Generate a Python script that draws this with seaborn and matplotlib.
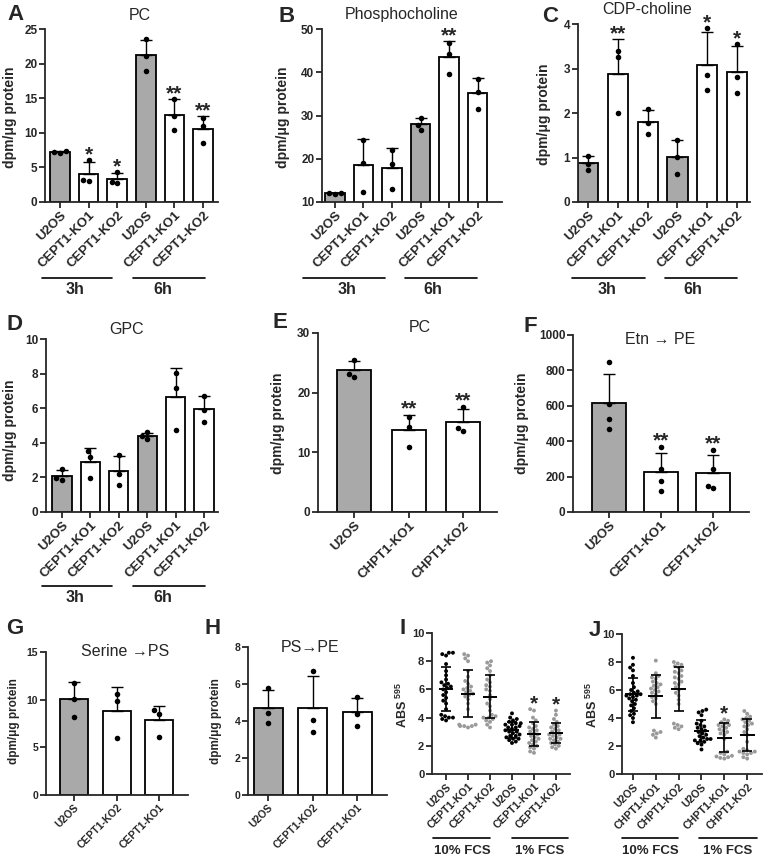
import numpy as np
import pandas as pd
import seaborn as sns
import matplotlib.pyplot as plt

sns.set_style("ticks")
plt.rcParams['font.family'] = ['Liberation Sans', 'DejaVu Sans']
plt.rcParams['mathtext.fontset'] = 'custom'
plt.rcParams['mathtext.rm'] = 'Liberation Sans'
plt.rcParams['mathtext.bf'] = 'Liberation Sans:bold'

# ---- data ----
time_ticks = ["U2OS", "CEPT1-KO1", "CEPT1-KO2", "U2OS", "CEPT1-KO1", "CEPT1-KO2"]
time_fill = ["#a9a9a9", "white", "white", "#a9a9a9", "white", "white"]

pc_3h6h = [[7.1, 7.2, 7.3], [6.0, 3.2, 3.1], [4.3, 2.7, 2.9],
           [23.5, 21.1, 19.0], [14.9, 12.4, 10.4], [12.1, 11.0, 8.5]]
pc_stars = ["", "*", "*", "", "**", "**"]

phosphocholine = [[11.9, 12.0, 12.1], [24.3, 19.0, 12.2], [22.1, 18.7, 12.9],
                  [29.5, 27.7, 26.6], [46.7, 44.2, 39.5], [38.5, 35.5, 31.5]]
phos_stars = ["", "", "", "", "**", ""]

cdp_choline = [[1.03, 0.86, 0.73], [3.40, 3.25, 2.0], [2.08, 1.78, 1.52],
               [1.40, 1.01, 0.64], [3.9, 2.85, 2.51], [3.55, 2.8, 2.44]]
cdp_stars = ["", "**", "", "", "*", "*"]

gpc = [[2.5, 1.85, 1.95], [3.5, 3.2, 1.97], [3.3, 2.2, 1.58],
       [4.6, 4.22, 4.37], [8.03, 7.17, 4.76], [6.69, 5.92, 5.18]]

chpt_ticks = ["U2OS", "CHPT1-KO1", "CHPT1-KO2"]
pc_chpt = [[25.5, 22.6, 23.1], [16.0, 14.2, 10.9], [17.67, 13.6, 14.1]]
pc_chpt_stars = ["", "**", "**"]

cept_ticks = ["U2OS", "CEPT1-KO1", "CEPT1-KO2"]
etn_pe = [[846, 611, 526, 470], [370, 242, 177, 120], [352, 244, 135, 148]]
etn_stars = ["", "**", "**"]

ps_ticks = ["U2OS", "CEPT1-KO2", "CEPT1-KO1"]
serine_ps = [[11.78, 10.1, 8.18], [10.63, 9.86, 5.98], [8.88, 8.53, 6.08]]
ps_pe = [[5.78, 4.43, 3.89], [6.68, 4.04, 3.42], [5.3, 4.36, 3.75]]
three_fill = ["#a9a9a9", "white", "white"]

abs_cept_ticks = ["U2OS", "CEPT1-KO1", "CEPT1-KO2", "U2OS", "CEPT1-KO1", "CEPT1-KO2"]
abs_chpt_ticks = ["U2OS", "CHPT1-KO1", "CHPT1-KO2", "U2OS", "CHPT1-KO1", "CHPT1-KO2"]
dot_colors = ["black", "#9a9a9a", "#9a9a9a", "black", "#9a9a9a", "#9a9a9a"]

abs_cept = [
    [3.8, 3.9, 4.0, 4.0, 4.1, 4.2, 4.6, 5.0, 5.2, 5.4, 5.6, 5.8, 6.0, 6.1, 6.2, 6.3, 6.4,
     6.5, 6.7, 7.0, 7.3, 7.8, 8.4, 8.5, 8.6, 8.6],
    [3.3, 3.4, 3.4, 3.4, 3.5, 3.5, 4.6, 5.0, 5.3, 5.5, 5.6, 5.7, 5.8, 5.9, 6.0, 6.1, 6.2,
     6.4, 6.6, 6.9, 7.3, 8.0, 8.2, 8.4, 8.5],
    [3.3, 3.5, 3.7, 3.8, 3.9, 4.0, 4.0, 4.1, 4.2, 4.5, 4.8, 5.0, 5.3, 5.6, 5.9, 6.0, 6.2,
     6.3, 6.5, 6.7, 7.0, 7.3, 7.5, 7.7, 7.9, 8.0],
    [2.2, 2.3, 2.4, 2.5, 2.5, 2.6, 2.7, 2.7, 2.8, 2.9, 3.0, 3.0, 3.1, 3.2, 3.3, 3.3, 3.4,
     3.5, 3.5, 3.6, 3.6, 3.7, 3.8, 3.9, 4.0, 4.3],
    [1.5, 1.6, 1.8, 1.9, 2.0, 2.1, 2.2, 2.3, 2.4, 2.5, 2.6, 2.7, 2.8, 2.9, 3.0, 3.1, 3.2,
     3.3, 3.4, 3.6, 3.8, 4.0, 4.5, 4.6],
    [1.8, 1.9, 2.0, 2.1, 2.2, 2.3, 2.4, 2.5, 2.5, 2.6, 2.7, 2.8, 2.8, 2.9, 3.0, 3.1, 3.2,
     3.3, 3.4, 3.5, 3.7, 3.9, 4.2, 4.5],
]
abs_cept_stars = ["", "", "", "", "*", "*"]

abs_chpt = [
    [3.7, 4.0, 4.2, 4.3, 4.5, 4.7, 4.9, 5.0, 5.2, 5.3, 5.4, 5.5, 5.6, 5.6, 5.7, 5.7, 5.8,
     5.9, 6.0, 6.2, 6.5, 7.0, 7.4, 7.6, 7.8, 8.3],
    [2.6, 2.8, 2.9, 3.0, 3.1, 5.0, 5.2, 5.4, 5.5, 5.7, 5.8, 5.9, 6.0, 6.1, 6.2, 6.3, 6.4,
     6.5, 6.6, 6.8, 6.9, 7.0, 7.2, 8.1],
    [3.2, 3.3, 3.4, 3.5, 3.6, 5.0, 5.3, 5.6, 5.8, 6.0, 6.2, 6.4, 6.5, 6.6, 6.8, 6.9, 7.0,
     7.2, 7.3, 7.4, 7.6, 7.7, 7.8, 7.9, 8.0],
    [1.75, 2.1, 2.2, 2.3, 2.4, 2.4, 2.5, 2.5, 2.6, 2.7, 2.8, 2.9, 3.0, 3.1, 3.2, 3.3, 3.4,
     3.5, 3.6, 3.8, 4.2, 4.4, 4.5, 4.6],
    [1.1, 1.15, 1.2, 1.25, 1.3, 1.4, 1.5, 1.6, 2.5, 2.8, 2.9, 3.0, 3.1, 3.2, 3.3, 3.4, 3.5,
     3.5, 3.6, 3.7, 3.8, 3.9],
    [1.1, 1.2, 1.4, 1.5, 1.5, 1.6, 1.6, 1.7, 1.8, 2.3, 2.8, 3.0, 3.2, 3.4, 3.5, 3.6, 3.7,
     3.8, 3.9, 4.0, 4.1, 4.3, 4.5],
]
abs_chpt_stars = ["", "", "", "", "*", ""]

# ---- figure helpers (pixel layout of the 764x857 figure) ----
W, H = 764, 857
fig = plt.figure(figsize=(W / 100, H / 100), dpi=100)


def px_rect(x0, y0, x1, y1):
    return [x0 / W, 1 - y1 / H, (x1 - x0) / W, (y1 - y0) / H]


def ftext(x, y, s, **kw):
    fig.text(x / W, 1 - y / H, s, ha='center', va='center', **kw)


def fline(x0, x1, y):
    fig.add_artist(plt.Line2D([x0 / W, x1 / W], [1 - y / H, 1 - y / H],
                              color='black', lw=1.2))


def long_df(keys, vals):
    rows = [(k, v) for k, vs in zip(keys, vals) for v in vs]
    return pd.DataFrame(rows, columns=['group', 'value'])


def style_axis(ax, ticks, ylim, yticks, xlim, tick_fs, ytick_fs):
    ax.set_ylim(*ylim)
    ax.set_yticks(yticks)
    ax.set_xlim(*xlim)
    ax.set_xticks(range(len(ticks)))
    ax.set_xticklabels(ticks, rotation=45, ha='right', rotation_mode='anchor',
                       fontsize=tick_fs, fontweight='bold')
    for lab in ax.get_yticklabels():
        lab.set_fontsize(ytick_fs)
        lab.set_fontweight('bold')
    ax.set_xlabel("")
    ax.set_ylabel("")
    sns.despine(ax=ax)
    for sp in ax.spines.values():
        sp.set_linewidth(1.3)
    ax.tick_params(width=1.3, length=4, pad=1.5)


def add_stars(ax, stars, tops, fs=15):
    for i, s in enumerate(stars):
        if s:
            ax.annotate(s, (i, tops[i]), xytext=(0, 0), textcoords='offset points',
                        ha='center', va='baseline', fontsize=fs, fontweight='bold',
                        annotation_clip=False)


def bar_panel(box, ticks, vals, fills, ylim, yticks, xlim, width=0.68, stars=None,
              tick_fs=9.5, ytick_fs=8.5, dot=4):
    ax = fig.add_axes(px_rect(*box))
    keys = [f"g{i}" for i in range(len(ticks))]
    df = long_df(keys, vals)
    sns.barplot(data=df, x='group', y='value', hue='group', order=keys,
                palette=dict(zip(keys, fills)), errorbar=None, width=width,
                edgecolor='black', linewidth=1.3, legend=False, ax=ax)
    stats = df.groupby('group')['value'].agg(['mean', 'std', 'max']).reindex(keys)
    xs = np.arange(len(keys))
    ax.errorbar(xs, stats['mean'], yerr=[np.zeros(len(keys)), stats['std']],
                fmt='none', ecolor='black', elinewidth=1, capsize=4, capthick=1, zorder=3)
    sns.swarmplot(data=df, x='group', y='value', order=keys, color='black',
                  size=dot, ax=ax, zorder=4)
    style_axis(ax, ticks, ylim, yticks, xlim, tick_fs, ytick_fs)
    if stars:
        tops = np.maximum(stats['mean'] + stats['std'], stats['max']).values
        add_stars(ax, stars, tops)
    return ax


def scatter_panel(box, ticks, vals, colors, xlim, stars):
    ax = fig.add_axes(px_rect(*box))
    keys = [f"g{i}" for i in range(len(ticks))]
    df = long_df(keys, vals)
    sns.swarmplot(data=df, x='group', y='value', hue='group', order=keys,
                  palette=dict(zip(keys, colors)), size=2.8, legend=False, ax=ax)
    stats = df.groupby('group')['value'].agg(['mean', 'std', 'max']).reindex(keys)
    xs = np.arange(len(keys))
    ax.errorbar(xs, stats['mean'], yerr=stats['std'], fmt='none', ecolor='black',
                elinewidth=1.2, capsize=3.5, capthick=1.2, zorder=5)
    ax.hlines(stats['mean'], xs - 0.33, xs + 0.33, color='black', lw=1.4, zorder=5)
    style_axis(ax, ticks, (0, 10), range(0, 11, 2), xlim, 7.7, 8)
    add_stars(ax, stars, stats['max'].values, fs=15)
    return ax


# ---- row 1 ----
bar_panel((45, 29, 218, 202), time_ticks, pc_3h6h, time_fill, (0, 25), range(0, 26, 5),
          (-0.52, 5.52), stars=pc_stars)
bar_panel((322, 29, 502, 202), time_ticks, phosphocholine, time_fill, (10, 50),
          range(10, 51, 10), (-0.45, 5.85), stars=phos_stars)
bar_panel((578, 24, 750, 202), time_ticks, cdp_choline, time_fill, (0, 4), range(0, 5),
          (-0.34, 5.44), stars=cdp_stars)

# ---- row 2 ----
bar_panel((46, 339, 218, 512), time_ticks, gpc, time_fill, (0, 10), range(0, 11, 2),
          (-0.56, 5.49))
bar_panel((318, 333, 497, 512), chpt_ticks, pc_chpt, three_fill, (0, 30), range(0, 31, 10),
          (-0.66, 2.62), width=0.62, stars=pc_chpt_stars)
bar_panel((573, 335, 749, 512), cept_ticks, etn_pe, three_fill, (0, 1000),
          range(0, 1001, 200), (-0.69, 2.69), width=0.64, stars=etn_stars)

# ---- row 3 ----
bar_panel((46, 652, 188, 795), ps_ticks, serine_ps, three_fill, (0, 15), range(0, 16, 5),
          (-0.66, 2.68), width=0.66, tick_fs=7.5, ytick_fs=7.5)
bar_panel((248, 647, 387, 795), ps_ticks, ps_pe, three_fill, (0, 8), range(0, 9, 2),
          (-0.45, 2.67), width=0.65, tick_fs=7.5, ytick_fs=7.5)
scatter_panel((432, 633, 570, 774), abs_cept_ticks, abs_cept, dot_colors, (-0.64, 5.64),
              abs_cept_stars)
scatter_panel((622, 634, 762, 774), abs_chpt_ticks, abs_chpt, dot_colors, (-0.48, 5.65),
              abs_chpt_stars)

# ---- titles ----
for x, y, s in [(140, 15, "PC"), (402, 15, "Phosphocholine"), (647, 9, "CDP-choline"),
                (127, 330, "GPC"), (420, 327, "PC"), (660, 340, "Etn \u2192 PE"),
                (125, 651, "Serine \u2192PS"), (310, 647, "PS\u2192PE")]:
    ftext(x, y, s, fontsize=11.5)

# ---- panel letters ----
for x, y, s in [(15, 15, "A"), (287, 16, "B"), (550, 17, "C"), (15, 325, "D"),
                (280, 323, "E"), (530, 327, "F"), (15, 628, "G"), (213, 628, "H"),
                (403, 628, "I"), (595, 630, "J")]:
    ftext(x, y, s, fontsize=16, fontweight='bold')

# ---- y labels ----
for x, y, fs in [(10, 117, 10), (283, 117, 10), (544, 114, 10), (10, 430, 10),
                 (278, 423, 10), (522, 423, 10), (14, 721, 8.5), (216, 721, 8.5)]:
    ftext(x, y, "dpm/\u03bcg protein", fontsize=fs, fontweight='bold', rotation=90)
for x, y in [(402, 705), (592, 705)]:
    ftext(x, y, r"ABS $^{\mathbf{595}}$", fontsize=9, fontweight='bold', rotation=90)

# ---- group brackets ----
for x0, x1, y in [(42, 112, 278), (133, 205, 278), (303, 385, 278), (405, 477, 278),
                  (572, 645, 278), (665, 737, 278), (42, 112, 586), (133, 205, 586)]:
    fline(x0, x1, y)
for x, y, s in [(75, 290, "3h"), (163, 290, "6h"), (347, 290, "3h"), (433, 290, "6h"),
                (607, 290, "3h"), (693, 290, "6h"), (75, 598, "3h"), (163, 598, "6h")]:
    ftext(x, y, s, fontsize=11.5, fontweight='bold')

for x0, x1 in [(433, 490), (512, 568), (622, 678), (699, 757)]:
    fline(x0, x1, 838)
for x, s in [(462, "10% FCS"), (540, "1% FCS"), (650, "10% FCS"), (728, "1% FCS")]:
    ftext(x, 851, s, fontsize=9.5, fontweight='bold')

fig.savefig("out.png", dpi=100)
